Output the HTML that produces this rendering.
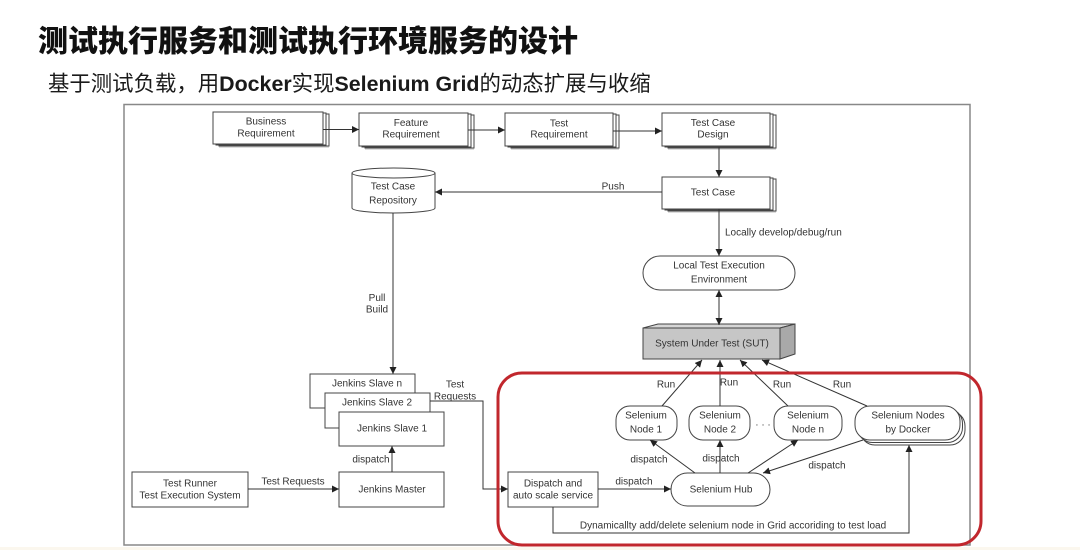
<!DOCTYPE html>
<html><head><meta charset="utf-8"><style>
html,body{margin:0;padding:0;background:#fff;}
body{width:1080px;height:550px;overflow:hidden;position:relative;}
svg{position:absolute;left:0;top:0;}
.t{font-family:"Liberation Sans","DejaVu Sans",sans-serif;font-size:10px;fill:#333;text-anchor:middle;dominant-baseline:central;}
.ts{text-anchor:start;}
</style></head><body>
<svg width="1080" height="550" viewBox="0 0 1080 550" xmlns="http://www.w3.org/2000/svg">
<defs>
<marker id="a" markerUnits="userSpaceOnUse" markerWidth="8" markerHeight="8" refX="7" refY="3.5" orient="auto"><path d="M0,0 L7,3.5 L0,7 z" fill="#222"/></marker>
<marker id="b" markerUnits="userSpaceOnUse" markerWidth="8" markerHeight="8" refX="0" refY="3.5" orient="auto"><path d="M7,0 L0,3.5 L7,7 z" fill="#222"/></marker>
</defs>
<rect x="0" y="547" width="1080" height="3" fill="#fbf7ee"/>
<!-- Title -->
<text x="38" y="42" font-family="'Liberation Sans','Noto Sans CJK SC',sans-serif" font-size="30" font-weight="900" fill="#111" dominant-baseline="central">测试执行服务和测试执行环境服务的设计</text>
<text x="48" y="84" font-family="'Liberation Sans','Noto Sans CJK SC',sans-serif" font-size="21.4" fill="#1a1a1a" dominant-baseline="central">基于测试负载，用<tspan font-weight="bold">Docker</tspan>实现<tspan font-weight="bold">Selenium Grid</tspan>的动态扩展与收缩</text>
<!-- Frame -->
<rect x="124" y="104.5" width="846" height="440.5" fill="none" stroke="#888" stroke-width="1.5"/>

<g stroke="#444" stroke-width="1" fill="#fff">
<!-- Business Requirement stack -->
<rect x="219" y="116" width="110" height="32" fill="#ddd" stroke="none"/>
<rect x="219" y="114" width="110" height="32"/>
<rect x="216" y="113" width="110" height="32"/>
<rect x="213" y="112" width="110" height="32"/>
<!-- Feature -->
<rect x="365" y="117" width="109" height="33" fill="#ddd" stroke="none"/>
<rect x="365" y="115" width="109" height="33"/>
<rect x="362" y="114" width="109" height="33"/>
<rect x="359" y="113" width="109" height="33"/>
<!-- Test Requirement -->
<rect x="511" y="117" width="108" height="33" fill="#ddd" stroke="none"/>
<rect x="511" y="115" width="108" height="33"/>
<rect x="508" y="114" width="108" height="33"/>
<rect x="505" y="113" width="108" height="33"/>
<!-- Test Case Design -->
<rect x="668" y="117" width="108" height="33" fill="#ddd" stroke="none"/>
<rect x="668" y="115" width="108" height="33"/>
<rect x="665" y="114" width="108" height="33"/>
<rect x="662" y="113" width="108" height="33"/>
<!-- Test Case -->
<rect x="668" y="181" width="108" height="32" fill="#ddd" stroke="none"/>
<rect x="668" y="179" width="108" height="32"/>
<rect x="665" y="178" width="108" height="32"/>
<rect x="662" y="177" width="108" height="32"/>
<!-- Cylinder -->
<path d="M352,173 L352,208 A41.5,5 0 0 0 435,208 L435,173"/>
<ellipse cx="393.5" cy="173" rx="41.5" ry="5"/>
<!-- Local Test Execution Environment -->
<rect x="643" y="256" width="152" height="34" rx="17" ry="17"/>
<!-- SUT -->
<polygon points="643,328 658,324 795,324 780,328" fill="#d6d6d6"/>
<polygon points="780,328 795,324 795,354 780,359" fill="#a9a9a9"/>
<rect x="643" y="328" width="137" height="31" fill="#c6c6c6"/>
<!-- Jenkins slaves -->
<rect x="310" y="374" width="105" height="34"/>
<rect x="325" y="393" width="105" height="35"/>
<rect x="339" y="412" width="105" height="34"/>
<rect x="339" y="472" width="105" height="35"/>
<rect x="132" y="472" width="116" height="35"/>
<!-- Dispatch service -->
<rect x="508" y="472" width="90" height="35"/>
<!-- Selenium nodes -->
<rect x="616" y="406" width="61" height="34" rx="14" ry="14"/>
<rect x="689" y="406" width="61" height="34" rx="14" ry="14"/>
<rect x="774" y="406" width="68" height="34" rx="14" ry="14"/>
<rect x="860" y="411" width="105" height="34" rx="15" ry="15"/>
<rect x="857.5" y="408.5" width="105" height="34" rx="15" ry="15"/>
<rect x="855" y="406" width="105" height="34" rx="15" ry="15"/>
<!-- Hub -->
<rect x="671" y="473" width="99" height="33" rx="16.5" ry="16.5"/>
</g>

<!-- Connectors -->
<g stroke="#333" stroke-width="1" fill="none">
<line x1="323" y1="129.5" x2="359" y2="129.5" marker-end="url(#a)"/>
<line x1="468" y1="130" x2="505" y2="130" marker-end="url(#a)"/>
<line x1="613" y1="131" x2="662" y2="131" marker-end="url(#a)"/>
<line x1="719" y1="147" x2="719" y2="177" marker-end="url(#a)"/>
<line x1="662" y1="192" x2="435" y2="192" marker-end="url(#a)"/>
<line x1="719" y1="209" x2="719" y2="256" marker-end="url(#a)"/>
<line x1="719" y1="290" x2="719" y2="325" marker-start="url(#b)" marker-end="url(#a)"/>
<line x1="393" y1="213" x2="393" y2="374" marker-end="url(#a)"/>
<line x1="392" y1="472" x2="392" y2="446" marker-end="url(#a)"/>
<line x1="248" y1="489" x2="339" y2="489" marker-end="url(#a)"/>
<polyline points="430,401 483,401 483,489 508,489" marker-end="url(#a)"/>
<line x1="598" y1="489" x2="671" y2="489" marker-end="url(#a)"/>
<!-- Run -->
<line x1="662" y1="406" x2="702" y2="360" marker-end="url(#a)"/>
<line x1="720" y1="406" x2="720" y2="360" marker-end="url(#a)"/>
<line x1="788" y1="406" x2="740" y2="360" marker-end="url(#a)"/>
<line x1="867" y1="406" x2="762" y2="360" marker-end="url(#a)"/>
<!-- dispatch from hub -->
<line x1="695" y1="473" x2="650" y2="440" marker-end="url(#a)"/>
<line x1="720" y1="473" x2="720" y2="440" marker-end="url(#a)"/>
<line x1="748" y1="473" x2="798" y2="440" marker-end="url(#a)"/>
<line x1="863" y1="440" x2="763" y2="473" marker-end="url(#a)"/>
<polyline points="553,507 553,533 909,533 909,445" marker-end="url(#a)"/>
</g>

<!-- Red box -->
<rect x="498" y="373" width="483" height="172" rx="24" ry="24" fill="none" stroke="#c1272d" stroke-width="3"/>

<!-- Labels -->
<text class="t" x="266" y="122">Business</text>
<text class="t" x="266" y="134">Requirement</text>
<text class="t" x="411" y="123.5">Feature</text>
<text class="t" x="411" y="135">Requirement</text>
<text class="t" x="559" y="124">Test</text>
<text class="t" x="559" y="135">Requirement</text>
<text class="t" x="713" y="123.5">Test Case</text>
<text class="t" x="713" y="135">Design</text>
<text class="t" x="713" y="193">Test Case</text>
<text class="t" x="613" y="187">Push</text>
<text class="t" x="393" y="187">Test Case</text>
<text class="t" x="393" y="201">Repository</text>
<text class="t" x="377" y="298.5">Pull</text>
<text class="t" x="377" y="310">Build</text>
<text class="t ts" x="725" y="233">Locally develop/debug/run</text>
<text class="t" x="719" y="266">Local Test Execution</text>
<text class="t" x="719" y="280">Environment</text>
<text class="t" x="712" y="344">System Under Test (SUT)</text>
<text class="t" x="666" y="385">Run</text>
<text class="t" x="729" y="383">Run</text>
<text class="t" x="782" y="385">Run</text>
<text class="t" x="842" y="385">Run</text>
<text class="t" x="646" y="416">Selenium</text>
<text class="t" x="646" y="430">Node 1</text>
<text class="t" x="720" y="416">Selenium</text>
<text class="t" x="720" y="430">Node 2</text>
<text class="t" x="808" y="416">Selenium</text>
<text class="t" x="808" y="430">Node n</text>
<text class="t" x="763" y="425">· · ·</text>
<text class="t" x="908" y="416">Selenium Nodes</text>
<text class="t" x="908" y="430">by Docker</text>
<text class="t" x="649" y="460">dispatch</text>
<text class="t" x="721" y="459">dispatch</text>
<text class="t" x="827" y="466">dispatch</text>
<text class="t" x="634" y="482">dispatch</text>
<text class="t" x="721" y="490">Selenium Hub</text>
<text class="t" x="553" y="484">Dispatch and</text>
<text class="t" x="553" y="496">auto scale service</text>
<text class="t" x="733" y="526">Dynamicallty add/delete selenium node in Grid accoriding to test load</text>
<text class="t" x="367" y="384">Jenkins Slave n</text>
<text class="t" x="377" y="403">Jenkins Slave 2</text>
<text class="t" x="392" y="429">Jenkins Slave 1</text>
<text class="t" x="392" y="490">Jenkins Master</text>
<text class="t" x="371" y="460">dispatch</text>
<text class="t" x="190" y="484">Test Runner</text>
<text class="t" x="190" y="496">Test Execution System</text>
<text class="t" x="293" y="482">Test Requests</text>
<text class="t" x="455" y="385">Test</text>
<text class="t" x="455" y="397">Requests</text>
</svg>
</body></html>
